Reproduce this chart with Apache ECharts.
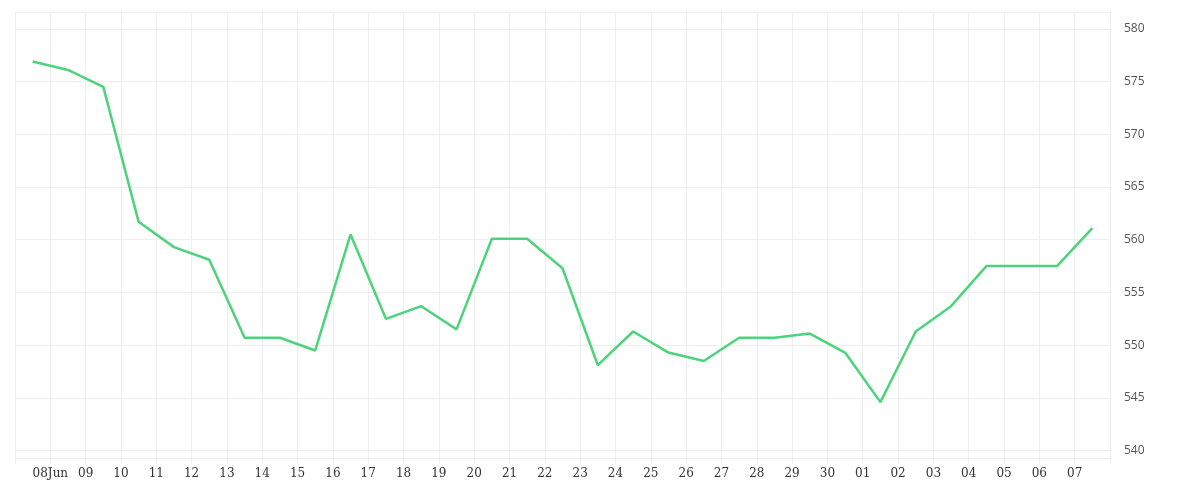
<!DOCTYPE html>
<html><head><meta charset="utf-8">
<script src="https://cdn.jsdelivr.net/npm/echarts@6/dist/echarts.min.js"></script>
<style>html,body{margin:0;padding:0;background:#fff}#c{width:1200px;height:500px}</style>
</head><body><div id="c"></div>
<script>
const startDate = '2024-06-07T12:00:00Z';
const values = [576.9,576.1,574.5,561.7,559.3,558.1,550.7,550.7,549.5,560.5,552.5,553.7,551.5,560.1,560.1,557.3,548.1,551.3,549.3,548.5,550.7,550.7,551.1,549.3,544.6,551.3,553.7,557.5,557.5,557.5,561.1];
const DAY = 86400000;
const t0 = Date.parse(startDate);
const tMin = t0 - DAY/2, tMax = t0 + values.length*DAY - DAY/2;
const data = values.map((v,i)=>[t0+i*DAY, v]);
const chart = echarts.init(document.getElementById('c'));
chart.setOption({
  animation:false,
  grid:{left:15,right:90,top:12,bottom:42},
  xAxis:{type:'time',min:tMin,max:tMax,interval:DAY,minInterval:DAY,maxInterval:DAY,
    axisLine:{show:false},axisTick:{show:true,length:6,lineStyle:{color:'#eee'}},
    splitLine:{show:true,lineStyle:{color:'#eee'}},
    axisLabel:{color:'#333',fontFamily:'DejaVu Serif',fontSize:12,margin:10,
      formatter:function(v){if(v<=tMin+1000||v>=tMax-1000) return '';
        const d=new Date(v);const dd=String(d.getUTCDate()).padStart(2,'0');
        if(d.getUTCMonth()===5&&d.getUTCDate()===8) return dd+'Jun'; return dd;}}},
  yAxis:{type:'value',position:'right',min:539.3,max:581.6,splitNumber:8,
    axisLine:{show:true,lineStyle:{color:'#eee'}},axisTick:{show:false},
    splitLine:{lineStyle:{color:'#eee'}},
    axisLabel:{showMinLabel:false,showMaxLabel:false,color:'#555',fontFamily:'Open Sans',fontSize:12,margin:14,
      formatter:function(v){return (Math.abs(v%5)<0.01)?String(Math.round(v)):'';}}},
  series:[{type:'line',data:data,showSymbol:false,lineStyle:{color:'#4cd37b',width:2.5},itemStyle:{color:'#4cd37b'}}]
});
</script></body></html>
